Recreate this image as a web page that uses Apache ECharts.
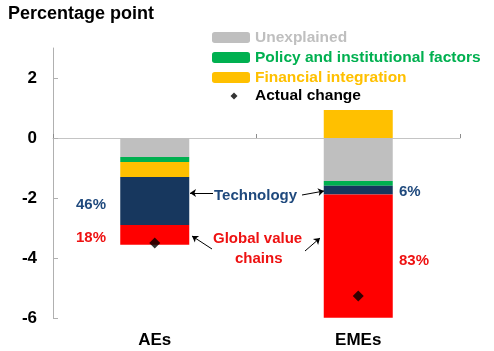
<!DOCTYPE html>
<html>
<head>
<meta charset="utf-8">
<script src="https://cdn.jsdelivr.net/npm/echarts@6/dist/echarts.min.js"></script>
<style>
  html, body { margin: 0; padding: 0; background: #fff; }
  #chart { width: 494px; height: 351px; }
</style>
</head>
<body>
<div id="chart"></div>
<script>
// data (percentage points)
const categories = ['AEs', 'EMEs']
const unexplained = [-0.63, -1.43]
const policy = [-0.17, -0.16]
const financial = [-0.5, 0.93]
const technology = [-1.6, -0.29]
const globalValueChains = [-0.66, -4.11]
const actualChange = [-3.5, -5.27]
const yTicks = [-6, -4, -2, 0, 2]

const FONT = 'Liberation Sans, Arial, sans-serif'
const NAVY_TXT = '#1F497D'
const RED_TXT = '#EE1111'

const myChart = echarts.init(document.getElementById('chart'))

// annotation arrows (pixels)
const arrowLines = [
  [{ x: 213, y: 193 }, { x: 190, y: 193 }],
  [{ x: 302, y: 195 }, { x: 324, y: 191 }],
  [{ x: 212, y: 249 }, { x: 192, y: 236 }],
  [{ x: 305, y: 251 }, { x: 320, y: 238 }]
]

function txt(text, x, y, color) {
  return {
    type: 'text', left: x, top: y,
    style: { text: text, fill: color, font: 'bold 15px ' + FONT }
  }
}

const option = {
  animation: false,
  backgroundColor: '#fff',
  grid: { left: 53, right: 34, top: 48, bottom: 33 },
  legend: [
    {
      orient: 'vertical',
      left: 212,
      top: 29.5,
      padding: 0,
      itemWidth: 38,
      itemHeight: 11,
      itemGap: 4,
      selectedMode: false,
      textStyle: { fontFamily: FONT, fontWeight: 'bold', fontSize: 15.5 },
      data: [
        { name: 'Unexplained', textStyle: { color: '#BFBFBF' } },
        { name: 'Policy and institutional factors', textStyle: { color: '#00B050' } },
        { name: 'Financial integration', textStyle: { color: '#FFC000' } }
      ]
    },
    {
      left: 212,
      top: 88,
      padding: 0,
      itemWidth: 38,
      itemHeight: 7,
      symbolKeepAspect: false,
      selectedMode: false,
      textStyle: { fontFamily: FONT, fontWeight: 'bold', fontSize: 15.5, color: '#000' },
      data: [{ name: 'Actual change', icon: 'path://M0,0M38,7M22,0L25.5,3.5L22,7L18.5,3.5Z' }]
    }
  ],
  xAxis: [
    {
      type: 'category',
      data: categories,
      axisLine: { onZero: true, lineStyle: { color: '#C4C4C4' } },
      axisTick: { show: true, inside: true, length: 4, lineStyle: { color: '#8C8C8C' } },
      axisLabel: { show: false }
    },
    {
      type: 'category',
      data: categories,
      position: 'bottom',
      axisLine: { show: false, onZero: false },
      axisTick: { show: false },
      axisLabel: { fontFamily: FONT, fontWeight: 'bold', fontSize: 17, color: '#000', margin: 14 }
    }
  ],
  yAxis: {
    type: 'value',
    min: -6,
    max: 3,
    interval: 2,
    axisLine: { show: true, lineStyle: { color: '#B0B0B0' } },
    axisTick: { show: true, inside: true, length: 5, customValues: yTicks, lineStyle: { color: '#B0B0B0' } },
    axisLabel: { customValues: yTicks, fontFamily: FONT, fontWeight: 'bold', fontSize: 17, color: '#000', margin: 16 },
    splitLine: { show: false }
  },
  series: [
    { name: 'Unexplained', type: 'bar', stack: 'total', barWidth: 69, data: unexplained, itemStyle: { color: '#BFBFBF' } },
    { name: 'Policy and institutional factors', type: 'bar', stack: 'total', data: policy, itemStyle: { color: '#00B050' } },
    { name: 'Financial integration', type: 'bar', stack: 'total', data: financial, itemStyle: { color: '#FFC000' } },
    { name: 'Technology', type: 'bar', stack: 'total', data: technology, itemStyle: { color: '#17375E' } },
    { name: 'Global value chains', type: 'bar', stack: 'total', data: globalValueChains, itemStyle: { color: '#FF0000' } },
    {
      name: 'Actual change',
      type: 'scatter',
      data: actualChange,
      symbol: 'diamond',
      symbolSize: 11,
      itemStyle: { color: '#000' },
      z: 5,
      markLine: {
        silent: true,
        symbol: ['none', 'arrow'],
        symbolSize: 6,
        label: { show: false },
        lineStyle: { color: '#000', width: 1, type: 'solid' },
        data: arrowLines
      }
    }
  ],
  graphic: [
    {
      type: 'text', left: 8, top: 5,
      style: { text: 'Percentage point', fill: '#000', font: 'bold 18px ' + FONT }
    },
    txt('Technology', 214, 188, NAVY_TXT),
    txt('Global value', 213, 231, RED_TXT),
    txt('chains', 235, 251, RED_TXT),
    txt('46%', 76, 197, NAVY_TXT),
    txt('18%', 76, 230, RED_TXT),
    txt('6%', 399, 184, NAVY_TXT),
    txt('83%', 399, 253, RED_TXT)
  ]
}

myChart.setOption(option)
</script>
</body>
</html>
